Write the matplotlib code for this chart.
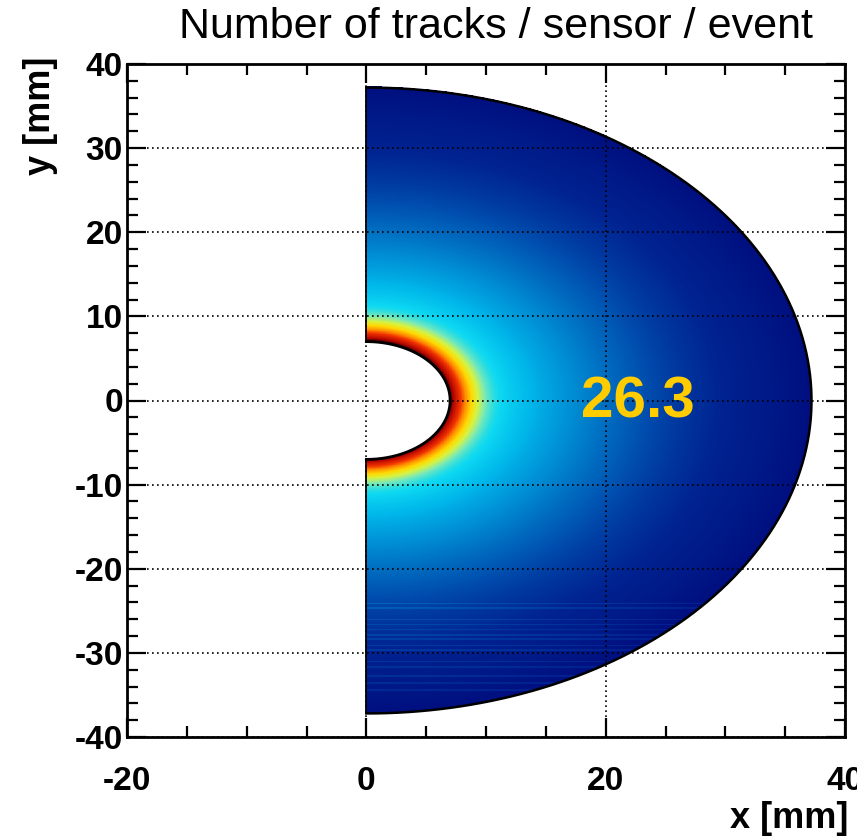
import numpy as np
import matplotlib
matplotlib.use("Agg")
import matplotlib.pyplot as plt
from matplotlib.colors import LinearSegmentedColormap

# ---------------- data ----------------
title_text = "Number of tracks / sensor / event"
x_label = "x [mm]"
y_label = "y [mm]"
mean_label = "26.3"
mean_pos = (22.7, -0.2)

r_inner = 7.0
r_outer = 37.2

# relative track density vs radius
profile_r = [7.0, 7.3, 7.9, 8.3, 8.8, 9.3, 10.0, 10.7, 12.0, 13.0, 14.5,
             16.0, 18.0, 20.0, 23.0, 26.0, 30.0, 34.0, 37.2]
profile_v = [1.00, 0.93, 0.84, 0.74, 0.64, 0.56, 0.47, 0.42, 0.37, 0.34, 0.30,
             0.27, 0.23, 0.195, 0.15, 0.10, 0.05, 0.025, 0.00]

# faint horizontal stripes in the lower part of the sensor (y in mm)
stripe_y = [-24.2, -24.7, -26.1, -26.7, -27.3, -27.9, -28.4, -29.2, -29.7,
            -31.1, -31.7, -32.8, -33.6, -34.5]
stripe_dv = 0.045

x_range = (-20, 40)
y_range = (-40, 40)
x_major = [-20, 0, 20, 40]
x_minor = [-15, -10, -5, 5, 10, 15, 25, 30, 35]
y_major = [-40, -30, -20, -10, 0, 10, 20, 30, 40]
y_minor = [v for v in range(-40, 41, 2) if v % 10 != 0]

cmap_stops = [
    (0.00, (0.00, 0.06, 0.50)),
    (0.06, (0.00, 0.15, 0.58)),
    (0.14, (0.00, 0.30, 0.68)),
    (0.22, (0.00, 0.50, 0.80)),
    (0.32, (0.00, 0.72, 0.92)),
    (0.40, (0.05, 0.85, 0.95)),
    (0.48, (0.50, 0.92, 0.70)),
    (0.56, (0.85, 0.95, 0.25)),
    (0.64, (1.00, 0.85, 0.00)),
    (0.74, (1.00, 0.55, 0.00)),
    (0.84, (0.95, 0.20, 0.00)),
    (0.93, (0.70, 0.02, 0.00)),
    (1.00, (0.25, 0.00, 0.00)),
]

# ---------------- figure ----------------
plt.rcParams["font.family"] = ["Liberation Sans", "DejaVu Sans"]
plt.rcParams["axes.unicode_minus"] = False
fig = plt.figure(figsize=(8.57, 8.40), dpi=100)
ax = fig.add_axes([127 / 857, 1 - 737 / 840, (845 - 127) / 857, (737 - 64) / 840])

cmap = LinearSegmentedColormap.from_list("rootpal", cmap_stops, N=512)

step = 0.05
xs = np.arange(0, r_outer + step, step)
ys = np.arange(-r_outer, r_outer + step, step)
XX, YY = np.meshgrid(xs + step / 2, ys + step / 2)
RR = np.hypot(XX, YY)
Z = np.interp(RR, profile_r, profile_v)
for sy in stripe_y:
    Z[np.abs(YY - sy) < 0.12] += stripe_dv
Z = np.ma.masked_where((RR < r_inner) | (RR > r_outer), Z)
ax.imshow(Z, origin="lower", extent=(0, xs[-1] + step, -r_outer, ys[-1] + step),
          cmap=cmap, vmin=0, vmax=1, interpolation="nearest", aspect="auto",
          zorder=0)

# sensor outline
th = np.linspace(-np.pi / 2, np.pi / 2, 400)
ax.plot(r_outer * np.cos(th), r_outer * np.sin(th), color="black", lw=1.8, zorder=3)
ax.plot(r_inner * np.cos(th), r_inner * np.sin(th), color="black", lw=2.0, zorder=3)
ax.plot([0, 0], [r_inner, r_outer], color="black", lw=1.3, zorder=3)
ax.plot([0, 0], [-r_outer, -r_inner], color="black", lw=1.3, zorder=3)

ax.set_xlim(*x_range)
ax.set_ylim(*y_range)
ax.set_xticks(x_major)
ax.set_xticks(x_minor, minor=True)
ax.set_yticks(y_major)
ax.set_yticks(y_minor, minor=True)
ax.grid(True, which="major", color="black", linestyle=(0, (1, 2)), lw=1.2)
ax.set_axisbelow(False)

ax.tick_params(which="both", direction="in", top=True, right=True, width=1.6)
ax.tick_params(which="major", length=14)
ax.tick_params(which="minor", length=8)
ax.tick_params(axis="x", which="major", pad=21)
ax.tick_params(axis="y", which="major", pad=3)
for lab in ax.get_xticklabels() + ax.get_yticklabels():
    lab.set_fontsize(24)
    lab.set_fontweight("bold")
for sp in ax.spines.values():
    sp.set_linewidth(2.0)

ax.text(*mean_pos, mean_label, color="#FFCC00", fontsize=42, fontweight="bold",
        ha="center", va="center", zorder=6)

fig.text(496 / 857, 1 - 27 / 840, title_text, fontsize=31, ha="center", va="center")
fig.text(848 / 857, 1 - 818 / 840, x_label, fontsize=26, fontweight="bold",
         ha="right", va="center")
fig.text(40 / 857, 1 - 57 / 840, y_label, fontsize=26, fontweight="bold",
         ha="center", va="top", rotation=90)

fig.savefig("out.png", dpi=100)
